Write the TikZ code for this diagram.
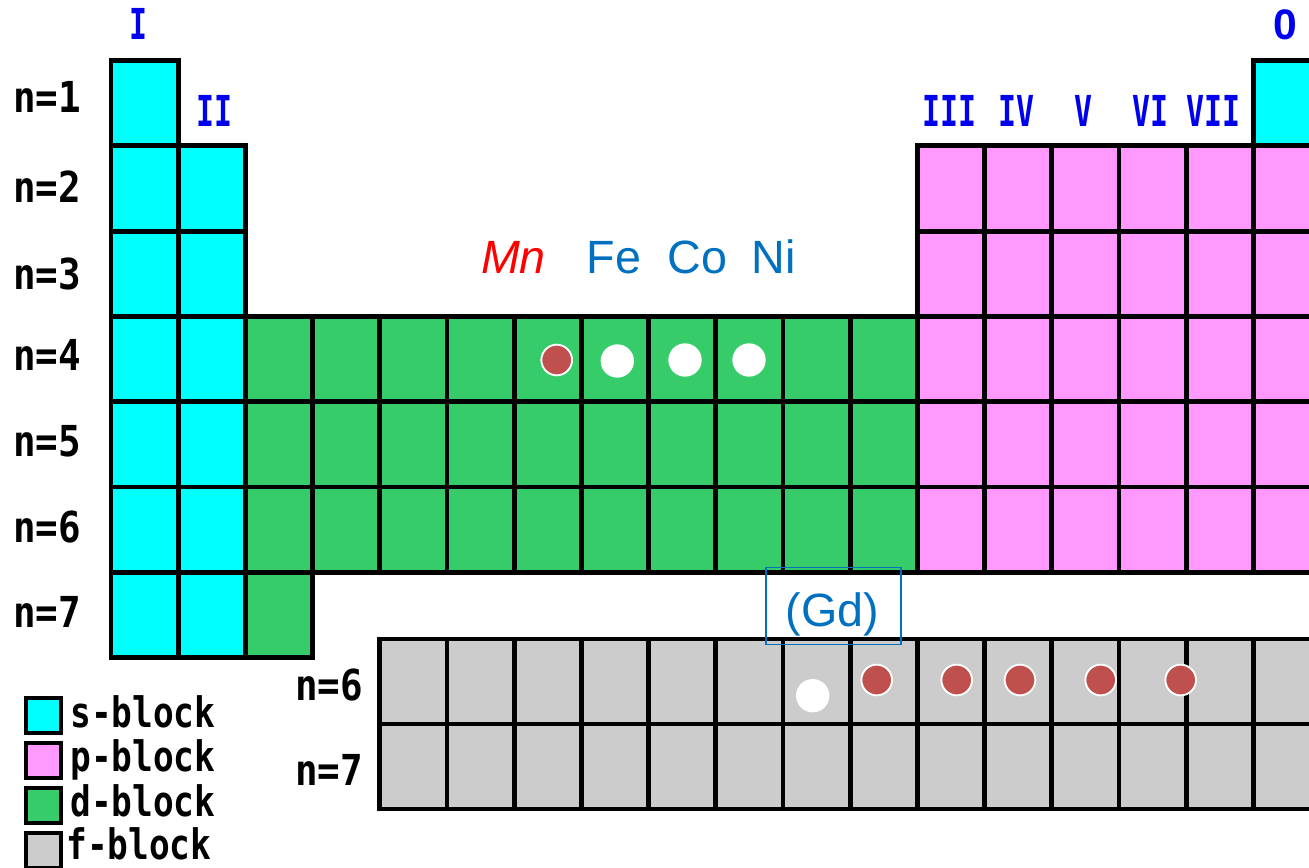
\documentclass[tikz,border=0pt]{standalone}
\usepackage{fontspec}
\setmainfont{Liberation Sans}
\newfontfamily\pixfont{DejaVu Sans Mono}
\usepackage{graphicx}
\definecolor{sblk}{HTML}{00FFFF}
\definecolor{pblk}{HTML}{FF99FF}
\definecolor{dblk}{HTML}{36CC6A}
\definecolor{fblk}{HTML}{CCCCCC}
\definecolor{grp}{HTML}{0000EE}
\definecolor{elem}{HTML}{0070C0}
\definecolor{spin}{HTML}{C0504D}
\newcommand\cellat[3]{%
  \filldraw[cell,fill=#3] ({111+67.2*#1},{60.5+85.3*#2}) rectangle ++(67.2,85.3);}
\newcommand\fcellat[2]{%
  \filldraw[cell,fill=fblk] ({111+67.2*#1},{639+85*#2}) rectangle ++(67.2,85);}
\begin{document}
\begin{tikzpicture}[x=0.75pt,y=-0.75pt,
  cell/.style={draw=black,line width=3.6pt},
  grpnum/.style={font=\pixfont\bfseries\fontsize{32}{32}\selectfont,text=grp,inner sep=0pt,anchor=base},
  nlbl/.style={font=\pixfont\bfseries\fontsize{32}{32}\selectfont,text=black,inner sep=0pt,anchor=base west},
  legtxt/.style={font=\pixfont\bfseries\fontsize{31.5}{31.5}\selectfont,text=black,inner sep=0pt,anchor=base west},
  legsq/.style={draw=black,line width=3pt,minimum size=26.6pt,inner sep=0pt},
  elemlbl/.style={font=\fontsize{35}{35}\selectfont,inner sep=0pt,anchor=base},
  spindot/.style={circle,fill=spin,draw=white,line width=1.4pt,minimum size=23pt,inner sep=0pt},
  holedot/.style={circle,fill=white,minimum size=25pt,inner sep=0pt},
  gdbox/.style={draw=elem,line width=1.2pt,minimum width=101.25pt,minimum height=57.75pt,inner sep=0pt}]
\useasboundingbox (0,0) rectangle (1309,867);
\clip (0,0) rectangle (1309,867);
\fill[white] (0,0) rectangle (1309,867);

% s-block
\cellat{0}{0}{sblk}
\cellat{17}{0}{sblk}
\foreach \r in {1,...,6} {\cellat{0}{\r}{sblk}\cellat{1}{\r}{sblk}}
% p-block
\foreach \r in {1,...,5} {\foreach \c in {12,...,17} {\cellat{\c}{\r}{pblk}}}
% d-block
\foreach \r in {3,4,5} {\foreach \c in {2,...,11} {\cellat{\c}{\r}{dblk}}}
\cellat{2}{6}{dblk}
% f-block
\foreach \r in {0,1} {\foreach \c in {4,...,17} {\fcellat{\c}{\r}}}

% group numbers
\node[grpnum] (gI)   at (138,40)   {\scalebox{0.7}[1]{I}};
\node[grpnum] (gII)  at (214.5,126) {\scalebox{0.7}[1]{II}};
\node[grpnum] (gIII) at (949,126)  {\scalebox{0.7}[1]{III}};
\node[grpnum] (gIV)  at (1016,126) {\scalebox{0.7}[1]{IV}};
\node[grpnum] (gV)   at (1083.5,126) {\scalebox{0.7}[1]{V}};
\node[grpnum] (gVI)  at (1150,126) {\scalebox{0.7}[1]{VI}};
\node[grpnum] (gVII) at (1213,126) {\scalebox{0.7}[1]{VII}};
\node[grpnum,font=\bfseries\fontsize{32}{32}\selectfont] (g0) at (1285,40) {0};

% period labels
\node[nlbl] (n1) at (13,112) {\scalebox{0.88}[1]{n=1}};
\node[nlbl] (n2) at (13,202) {\scalebox{0.88}[1]{n=2}};
\node[nlbl] (n3) at (13,289) {\scalebox{0.88}[1]{n=3}};
\node[nlbl] (n4) at (13,370) {\scalebox{0.88}[1]{n=4}};
\node[nlbl] (n5) at (13,456) {\scalebox{0.88}[1]{n=5}};
\node[nlbl] (n6) at (13,542) {\scalebox{0.88}[1]{n=6}};
\node[nlbl] (n7) at (13,627) {\scalebox{0.88}[1]{n=7}};
\node[nlbl] (fn6) at (295,700) {\scalebox{0.88}[1]{n=6}};
\node[nlbl] (fn7) at (295,785) {\scalebox{0.88}[1]{n=7}};

% element labels
\node[elemlbl,text=red] (mn) at (513.5,273) {\itshape Mn};
\node[elemlbl,text=elem] (fe) at (614,273) {Fe};
\node[elemlbl,text=elem] (co) at (697.5,273) {Co};
\node[elemlbl,text=elem] (ni) at (774,273) {Ni};
\node[gdbox] (gdframe) at (833.2,605.8) {};
\node[elemlbl,text=elem] (gd) at (832.5,626) {(Gd)};

% moments in the d-row
\node[spindot] (mndot) at (556.7,360) {};
\node[holedot] (fedot) at (617.3,361) {};
\node[holedot] (codot) at (685,360) {};
\node[holedot] (nidot) at (749,360) {};
% moments in the f-row
\node[holedot] (gddot) at (812.7,695.7) {};
\node[spindot] (tb) at (876.7,680) {};
\node[spindot] (dy) at (956.7,680) {};
\node[spindot] (ho) at (1020,680) {};
\node[spindot] (er) at (1100.7,680) {};
\node[spindot] (tm) at (1180.7,680) {};

% legend
\node[legsq,fill=sblk] (lsq) at (43.7,715.3) {};
\node[legsq,fill=pblk] (lpq) at (43.7,760.3) {};
\node[legsq,fill=dblk] (ldq) at (43.7,805.3) {};
\node[legsq,fill=fblk] (lfq) at (43.7,850.3) {};
\node[legtxt] (lst) at (70,727) {\scalebox{0.82}[1]{s-block}};
\node[legtxt] (lpt) at (70,771) {\scalebox{0.82}[1]{p-block}};
\node[legtxt] (ldt) at (70,816) {\scalebox{0.82}[1]{d-block}};
\node[legtxt] (lft) at (66,859) {\scalebox{0.82}[1]{f-block}};
\end{tikzpicture}
\end{document}
